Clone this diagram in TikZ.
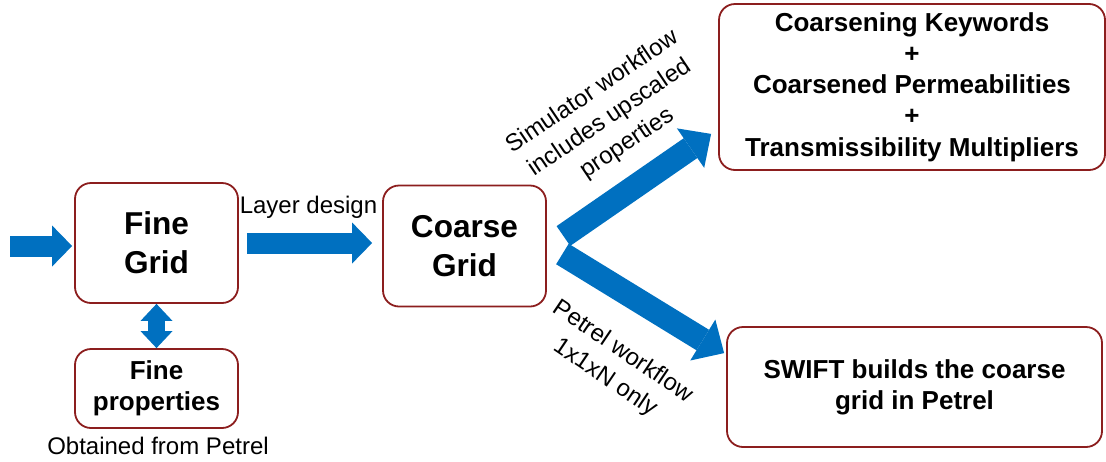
\documentclass[tikz,border=0pt]{standalone}
\usepackage{fontspec}
\setmainfont{Liberation Sans}
\usetikzlibrary{arrows.meta, calc, positioning}
\definecolor{boxred}{RGB}{140,30,30}
\definecolor{flowblue}{RGB}{0,112,192}
\tikzset{
    box/.style={draw=boxred, line width=0.9pt, rounded corners=8pt, fill=white,
        align=center, inner sep=0pt, font=\bfseries\fontsize{13}{15.6}\selectfont},
    bigbox/.style={box, font=\bfseries\fontsize{15.8}{19.5}\selectfont},
    lbl/.style={align=center, inner sep=0pt, font=\fontsize{12}{15.5}\selectfont},
    flow/.style={draw=flowblue, line width=10.5pt,
        -{Triangle[length=10pt, width=20.5pt, line width=0pt]}},
    dflow/.style={draw=flowblue, line width=8.5pt,
        {Triangle[length=8.5pt, width=16pt, line width=0pt]}-{Triangle[length=8.5pt, width=16pt, line width=0pt]}},
    bigflow/.style={draw=flowblue, line width=12pt,
        -{Triangle[length=12.5pt, width=24pt, line width=0pt]}}
}
\begin{document}
\begin{tikzpicture}[x=0.5pt, y=-0.5pt]
    \useasboundingbox (0,0) rectangle (1106,461);

    % boxes
    \node[bigbox, minimum width=81.5pt, minimum height=60pt] (fine) at (156.5,243) {Fine\\Grid};
    \node[box, minimum width=81.5pt, minimum height=39.5pt] (props) at (156.5,388.5) {Fine\\properties};
    \node[bigbox, minimum width=81.5pt, minimum height=60.5pt] (coarse) at (464.5,246) {Coarse\\Grid};
    \node[box, minimum width=193pt, minimum height=83pt] (keys) at (912,87)
        {Coarsening Keywords\\+\\Coarsened Permeabilities\\+\\Transmissibility Multipliers};
    \node[box, minimum width=187.5pt, minimum height=60pt] (swift) at (914.5,387)
        {SWIFT builds the coarse\\grid in Petrel};

    % labels
    \node[lbl, anchor=base] (layer) at (308.5,213) {Layer design};
    \node[lbl, anchor=base] (obtained) at (158,454) {Obtained from Petrel};
    \node[lbl, rotate=34] (simtext) at (610,118) {Simulator workflow\\includes upscaled\\properties};
    \node[lbl, rotate=-34] (pettext) at (614,365) {Petrel workflow\\1x1xN only};

    % connectors
    \coordinate (in) at (10,246);
    \coordinate (tail1) at ($(coarse.east)+(16.5,-10)$);
    \coordinate (tail2) at ($(coarse.east)+(15.5,8)$);
    \coordinate (tip1) at ($(keys.south west)+(-7,-37)$);
    \coordinate (tip2) at ($(swift.north west)+(-2,27)$);

    \draw[flow, shorten >=1pt] (in) -- (in -| fine.west);
    \draw[flow, shorten <=4pt, shorten >=5pt] (fine.east) -- (fine.east -| coarse.west);
    \draw[dflow] (fine.south) -- (props.north);
    \draw[bigflow] (tail1) -- (tip1);
    \draw[bigflow] (tail2) -- (tip2);
\end{tikzpicture}
\end{document}
